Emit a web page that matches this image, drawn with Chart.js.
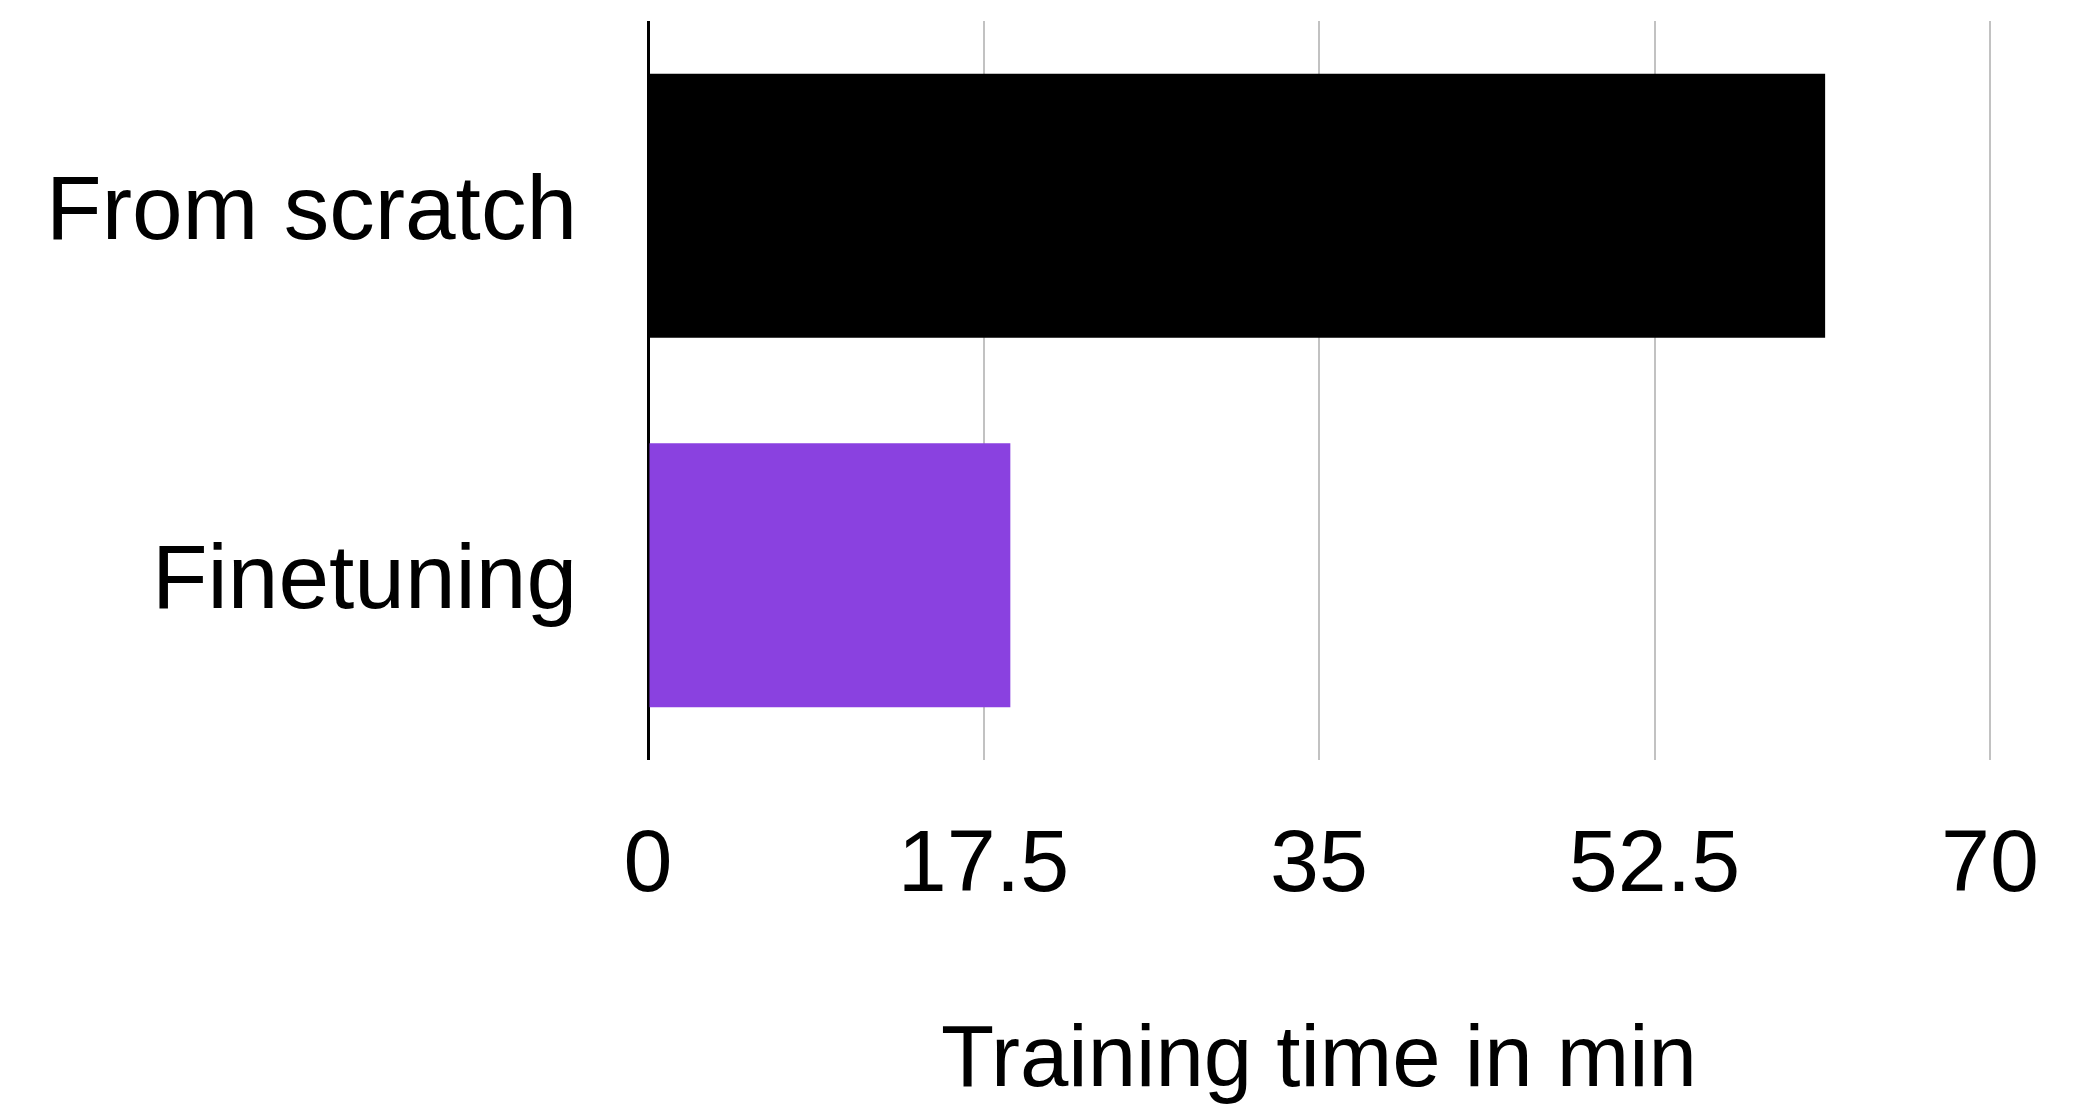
<!DOCTYPE html>
<html>
<head>
<meta charset="utf-8">
<script src="https://cdn.jsdelivr.net/npm/chart.js@4"></script>
<style>
  body { margin: 0; background: #ffffff; }
  #wrap { width: 2096px; height: 1108px; }
</style>
</head>
<body>
<div id="wrap"><canvas id="myChart" width="2096" height="1108"></canvas></div>
<script>
// Données
const categories = ['From scratch', 'Finetuning'];
const trainingMinutes = [61.4, 18.9];
const barColors = ['#000000', '#8a41e0'];
const xTicks = [0, 17.5, 35, 52.5, 70];
const axisTitle = 'Training time in min';

const fontFamily = '"Liberation Sans", Arial, Helvetica, sans-serif';

const ctx = document.getElementById('myChart');

new Chart(ctx, {
    type: 'bar',
    data: {
        labels: categories,
        datasets: [{
            data: trainingMinutes,
            backgroundColor: barColors,
            borderWidth: 0,
            categoryPercentage: 1,
            barPercentage: 0.715
        }]
    },
    options: {
        indexAxis: 'y',
        responsive: false,
        animation: false,
        layout: {
            padding: { top: 21, right: 106, left: 0, bottom: 0 }
        },
        plugins: {
            legend: { display: false },
            tooltip: { enabled: false }
        },
        scales: {
            x: {
                min: 0,
                max: 70,
                afterBuildTicks: function(scale) {
                    scale.ticks = xTicks.map(v => ({ value: v }));
                },
                afterFit: function(scale) {
                    scale.height = 348;
                },
                border: { display: false },
                grid: {
                    drawTicks: false,
                    color: c => (c.tick && c.tick.value === 0) ? '#000000' : '#c2c2c2',
                    lineWidth: c => (c.tick && c.tick.value === 0) ? 3 : 2
                },
                ticks: {
                    padding: 54,
                    color: '#000000',
                    font: { family: fontFamily, size: 88 },
                    callback: v => String(v)
                },
                title: {
                    display: true,
                    text: axisTitle,
                    color: '#000000',
                    font: { family: fontFamily, size: 87 },
                    padding: { top: 0, bottom: -6 }
                }
            },
            y: {
                afterFit: function(scale) {
                    scale.width = 648;
                    // pas de marge auto en haut/bas
                    scale.paddingTop = 0;
                    scale.paddingBottom = 0;
                },
                border: { display: false },
                grid: { display: false, drawTicks: false },
                ticks: {
                    padding: 71,
                    labelOffset: 8,
                    color: '#000000',
                    font: { family: fontFamily, size: 91 }
                }
            }
        }
    }
});
</script>
</body>
</html>
